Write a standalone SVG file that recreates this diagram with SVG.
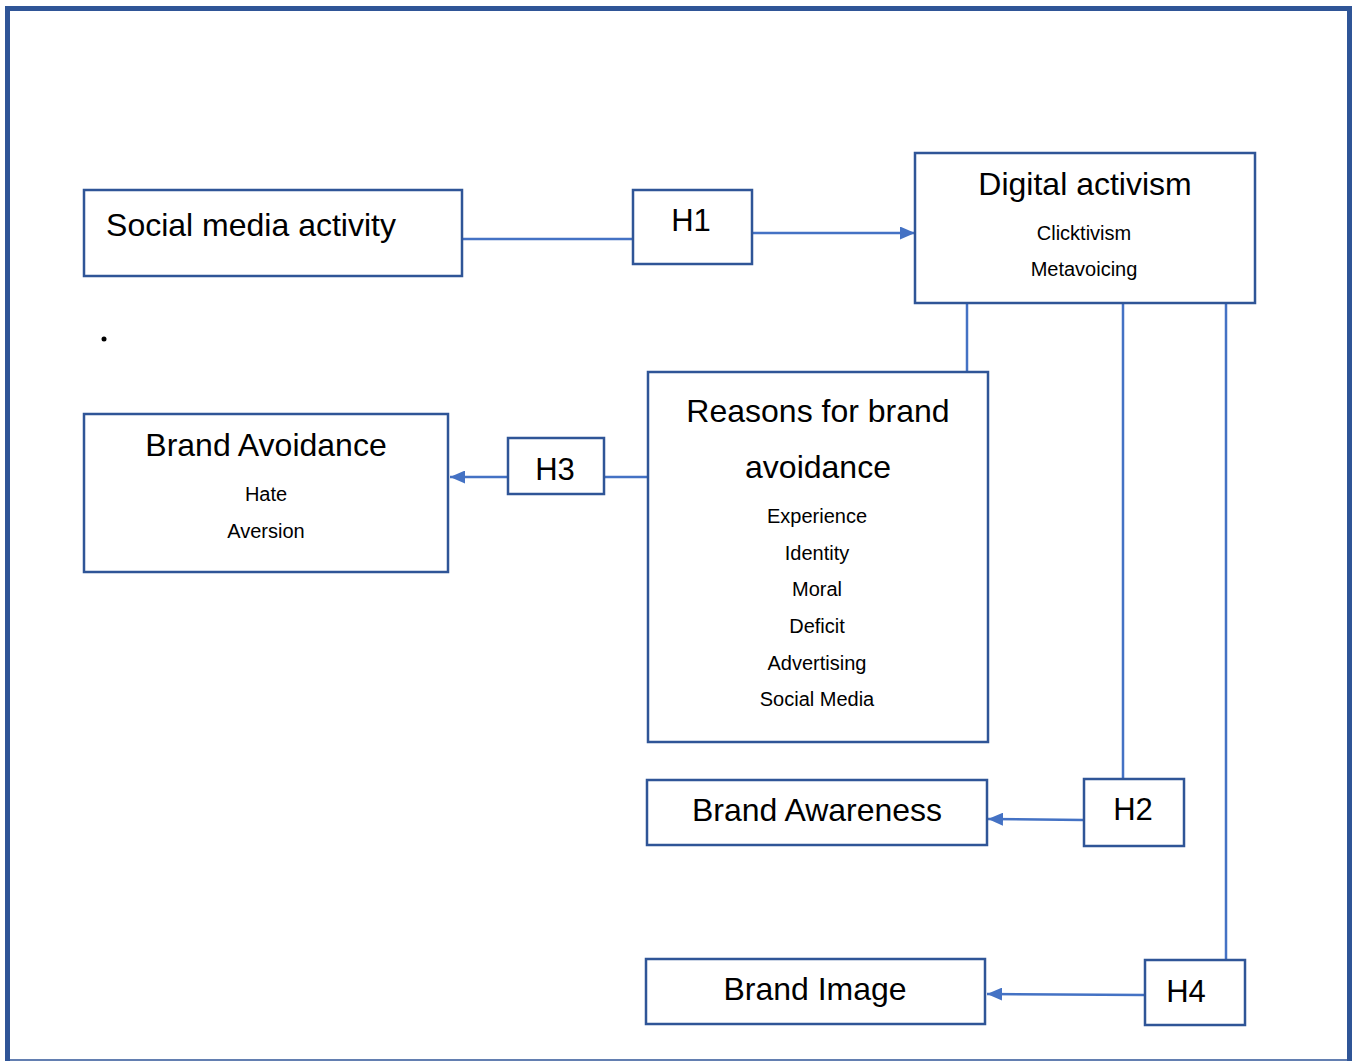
<svg xmlns="http://www.w3.org/2000/svg" width="1354" height="1061" viewBox="0 0 1354 1061">
  <defs>
    <style>
      .box { fill: #ffffff; stroke: #2F5597; stroke-width: 2.5; }
      .link { fill: none; stroke: #4472C4; stroke-width: 2.5; }
      .t { font-family: "Liberation Sans", Arial, sans-serif; fill: #000000; text-anchor: middle; }
      .big { font-size: 32px; }
      .small { font-size: 20px; }
    </style>
    <marker id="arrow" viewBox="0 0 15 13" refX="15" refY="6.5" markerWidth="15" markerHeight="13" markerUnits="userSpaceOnUse" orient="auto">
      <path d="M0,0 L15,6.5 L0,13 Z" fill="#4472C4"/>
    </marker>
  </defs>

  <rect x="0" y="0" width="1354" height="1061" fill="#ffffff"/>

  <!-- outer frame -->
  <path d="M7.5,1061 V8.5 H1349.5 V1061" fill="none" stroke="#2F5597" stroke-width="5"/>
  <line x1="7" y1="1060" x2="1350" y2="1060" stroke="#2F5597" stroke-width="1.5"/>

  <!-- connectors -->
  <g id="connectors">
    <line class="link" x1="462" y1="239" x2="633" y2="239"/>
    <line class="link" x1="752" y1="233" x2="915" y2="233" marker-end="url(#arrow)"/>
    <line class="link" x1="967" y1="304" x2="967" y2="372"/>
    <line class="link" x1="648" y1="477" x2="604" y2="477"/>
    <line class="link" x1="508" y1="477" x2="450" y2="477" marker-end="url(#arrow)"/>
    <line class="link" x1="1123" y1="304" x2="1123" y2="779"/>
    <line class="link" x1="1084" y1="820" x2="988" y2="819" marker-end="url(#arrow)"/>
    <line class="link" x1="1226" y1="304" x2="1226" y2="960"/>
    <line class="link" x1="1145" y1="995" x2="987" y2="994" marker-end="url(#arrow)"/>
  </g>

  <g id="social-media-activity">
    <rect class="box" x="84" y="190" width="378" height="86"/>
    <text class="t big" x="251" y="236">Social media activity</text>
  </g>

  <g id="h1">
    <rect class="box" x="633" y="190" width="119" height="74"/>
    <text class="t" font-size="31" x="691" y="231">H1</text>
  </g>

  <g id="digital-activism">
    <rect class="box" x="915" y="153" width="340" height="150"/>
    <text class="t big" x="1085" y="195">Digital activism</text>
    <text class="t small" x="1084" y="240">Clicktivism</text>
    <text class="t small" x="1084" y="276">Metavoicing</text>
  </g>

  <g id="reasons">
    <rect class="box" x="648" y="372" width="340" height="370"/>
    <text class="t big" x="818" y="422">Reasons for brand</text>
    <text class="t big" x="818" y="478">avoidance</text>
    <text class="t small" x="817" y="523">Experience</text>
    <text class="t small" x="817" y="560">Identity</text>
    <text class="t small" x="817" y="596">Moral</text>
    <text class="t small" x="817" y="633">Deficit</text>
    <text class="t small" x="817" y="670">Advertising</text>
    <text class="t small" x="817" y="706">Social Media</text>
  </g>

  <g id="h3">
    <rect class="box" x="508" y="438" width="96" height="56"/>
    <text class="t" font-size="31" x="555" y="480">H3</text>
  </g>

  <g id="brand-avoidance">
    <rect class="box" x="84" y="414" width="364" height="158"/>
    <text class="t big" x="266" y="456">Brand Avoidance</text>
    <text class="t small" x="266" y="501">Hate</text>
    <text class="t small" x="266" y="538">Aversion</text>
  </g>

  <g id="h2">
    <rect class="box" x="1084" y="779" width="100" height="67"/>
    <text class="t" font-size="31" x="1133" y="820">H2</text>
  </g>

  <g id="brand-awareness">
    <rect class="box" x="647" y="780" width="340" height="65"/>
    <text class="t big" x="817" y="821">Brand Awareness</text>
  </g>

  <g id="h4">
    <rect class="box" x="1145" y="960" width="100" height="65"/>
    <text class="t" font-size="31" x="1186" y="1002">H4</text>
  </g>

  <g id="brand-image">
    <rect class="box" x="646" y="959" width="339" height="65"/>
    <text class="t big" x="815" y="1000">Brand Image</text>
  </g>

  <circle cx="104" cy="339" r="2.5" fill="#000000"/>
</svg>
